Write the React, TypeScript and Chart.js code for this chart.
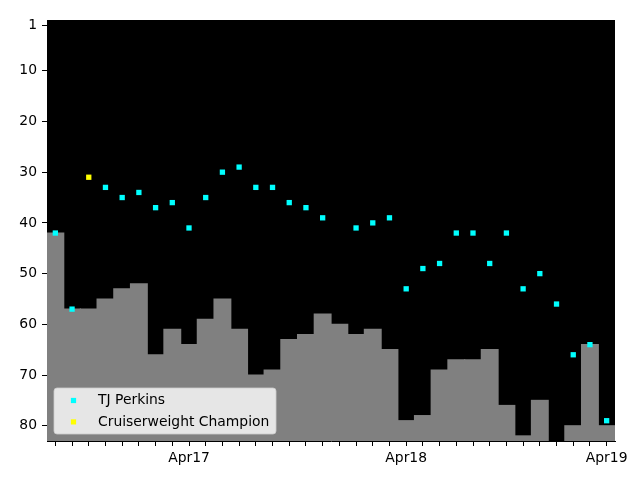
import React, { useEffect, useRef } from "react";
import { Chart, registerables } from "chart.js";

Chart.register(...registerables);

// ---- Data ----
const indices: number[] = Array.from({ length: 34 }, (_, i) => i);
const barValues: (number | null)[] = [
  42, 57, 57, 55, 53, 52, 66, 61, 64, 59, 55, 61, 70, 69, 63, 62, 58,
  60, 62, 61, 65, 79, 78, 69, 67, 67, 65, 76, 82, 75, null, 80, 64, 80,
];
const perkinsRanks: (number | null)[] = [
  42, 57, null, 33, 35, 34, 37, 36, 41, 35, 30, 29, 33, 33, 36, 37, 39,
  null, 41, 40, 39, 53, 49, 48, 42, 42, 48, 42, 53, 50, 56, 66, 64, 79,
];
const championRanks: (number | null)[] = [
  null, null, 31, null, null, null, null, null, null, null, null, null, null, null, null, null, null,
  null, null, null, null, null, null, null, null, null, null, null, null, null, null, null, null, null,
];
const xTickPositions: number[] = [8, 21, 33];
const xTickLabels: string[] = ["Apr17", "Apr18", "Apr19"];
const yTicks: number[] = [1, 10, 20, 30, 40, 50, 60, 70, 80];
const yBottom = 83;
const legendLabels: string[] = ["TJ Perkins", "Cruiserweight Champion"];
const legendColors: string[] = ["#00ffff", "#ffff00"];

const FONT = "DejaVu Sans";
const FONT_SIZE = 13.9;

const bgPlugin = {
  id: "plotBg",
  beforeDraw(chart: any) {
    const { ctx, chartArea } = chart;
    ctx.save();
    ctx.fillStyle = "#000000";
    ctx.fillRect(chartArea.left, chartArea.top, chartArea.right - chartArea.left, chartArea.bottom - chartArea.top);
    ctx.restore();
  },
};

const legendPlugin = {
  id: "insideLegend",
  afterDraw(chart: any) {
    const { ctx, chartArea } = chart;
    const x = chartArea.left + 7;
    const h = 46;
    const y = chartArea.bottom - 7 - h;
    const w = 222;
    ctx.save();
    ctx.beginPath();
    const r = 3;
    ctx.moveTo(x + r, y);
    ctx.lineTo(x + w - r, y);
    ctx.arcTo(x + w, y, x + w, y + r, r);
    ctx.lineTo(x + w, y + h - r);
    ctx.arcTo(x + w, y + h, x + w - r, y + h, r);
    ctx.lineTo(x + r, y + h);
    ctx.arcTo(x, y + h, x, y + h - r, r);
    ctx.lineTo(x, y + r);
    ctx.arcTo(x, y, x + r, y, r);
    ctx.closePath();
    ctx.fillStyle = "rgba(255,255,255,0.8)";
    ctx.fill();
    ctx.strokeStyle = "rgba(204,204,204,0.8)";
    ctx.lineWidth = 1;
    ctx.stroke();
    ctx.font = `${FONT_SIZE}px "${FONT}"`;
    ctx.textBaseline = "middle";
    ctx.textAlign = "left";
    legendLabels.forEach((label, i) => {
      const cy = y + 12.5 + i * 21.4;
      ctx.fillStyle = legendColors[i];
      ctx.fillRect(x + 19.5 - 2.6, cy - 2.6, 5.2, 5.2);
      ctx.fillStyle = "#000000";
      ctx.fillText(label, x + 44, cy);
    });
    ctx.restore();
  },
};

export default function App() {
  const canvasRef = useRef<HTMLCanvasElement | null>(null);

  useEffect(() => {
    const canvas = canvasRef.current;
    if (!canvas) return;
    const barData = indices
      .filter((i) => barValues[i] !== null)
      .map((i) => ({ x: i, y: [yBottom, barValues[i] as number] }));
    const perkinsData = indices
      .filter((i) => perkinsRanks[i] !== null)
      .map((i) => ({ x: i, y: perkinsRanks[i] as number }));
    const champData = indices
      .filter((i) => championRanks[i] !== null)
      .map((i) => ({ x: i, y: championRanks[i] as number }));

    const chart = new Chart(canvas, {
      type: "bar",
      data: {
        datasets: [
          {
            type: "scatter",
            label: legendLabels[0],
            data: perkinsData,
            pointStyle: "rect",
            pointRadius: 3.75,
            pointBorderWidth: 0,
            backgroundColor: legendColors[0],
            borderColor: legendColors[0],
            order: 1,
          } as any,
          {
            type: "scatter",
            label: legendLabels[1],
            data: champData,
            pointStyle: "rect",
            pointRadius: 3.75,
            pointBorderWidth: 0,
            backgroundColor: legendColors[1],
            borderColor: legendColors[1],
            order: 0,
          } as any,
          {
            type: "bar",
            label: "bars",
            data: barData,
            backgroundColor: "#808080",
            borderWidth: 0,
            inflateAmount: 0.6,
            barPercentage: 1,
            categoryPercentage: 1,
            order: 2,
          } as any,
        ],
      },
      options: {
        animation: false,
        responsive: false,
        maintainAspectRatio: false,
        layout: { padding: { top: 20, right: 25, left: 0, bottom: 0 } },
        plugins: { legend: { display: false }, tooltip: { enabled: false } },
        scales: {
          x: {
            type: "linear",
            min: -0.5,
            max: 33.5,
            offset: false,
            afterBuildTicks: (scale: any) => {
              scale.ticks = indices.map((v) => ({ value: v }));
            },
            afterFit: (scale: any) => {
              scale.height = 39;
            },
            grid: {
              display: true,
              drawOnChartArea: false,
              drawTicks: true,
              tickLength: 5,
              color: "#000000",
              offset: false,
            },
            border: { display: true, color: "#000000", width: 1 },
            ticks: {
              autoSkip: false,
              maxRotation: 0,
              minRotation: 0,
              padding: 4,
              color: "#000000",
              font: { family: FONT, size: FONT_SIZE },
              callback: (value: any) => {
                const k = xTickPositions.indexOf(Number(value));
                return k >= 0 ? xTickLabels[k] : "";
              },
            },
          },
          y: {
            type: "linear",
            reverse: true,
            min: 0,
            max: yBottom,
            afterBuildTicks: (scale: any) => {
              scale.ticks = yTicks.map((v) => ({ value: v }));
            },
            afterFit: (scale: any) => {
              scale.width = 47;
            },
            grid: {
              display: true,
              drawOnChartArea: false,
              drawTicks: true,
              tickLength: 5,
              color: "#000000",
            },
            border: { display: true, color: "#000000", width: 1 },
            ticks: {
              autoSkip: false,
              padding: 5,
              color: "#000000",
              font: { family: FONT, size: FONT_SIZE },
              callback: (value: any) => String(value),
            },
          },
        },
      },
      plugins: [bgPlugin, legendPlugin],
    } as any);

    return () => {
      chart.destroy();
    };
  }, []);

  return (
    <div style={{ position: "fixed", left: 0, top: 0, width: 640, height: 480, background: "#ffffff" }}>
      <canvas ref={canvasRef} width={640} height={480} style={{ width: 640, height: 480 }} />
    </div>
  );
}
